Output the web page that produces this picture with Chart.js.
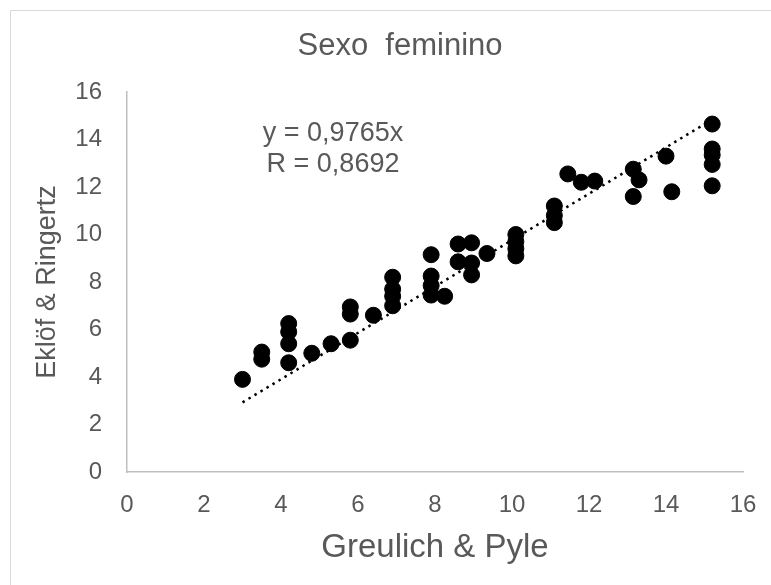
<!DOCTYPE html>
<html>
<head>
<meta charset="utf-8">
<script src="https://cdn.jsdelivr.net/npm/chart.js@4"></script>
<style>
  body { margin: 0; background: #fff; }
  canvas { display: block; }
</style>
</head>
<body>
<canvas id="agesChart" width="771" height="585"></canvas>
<script>
// Greulich & Pyle (x) vs Eklöf & Ringertz (y)
const gpAges = [3.0, 3.5, 3.5, 4.2, 4.2, 4.2, 4.2, 4.8, 5.3, 5.8, 5.8, 5.8, 6.4,
    6.9, 6.9, 6.9, 6.9, 7.9, 7.9, 7.9, 7.9, 8.25, 8.6, 8.6, 8.95, 8.95, 8.95, 9.35,
    10.1, 10.1, 10.1, 10.1, 11.1, 11.1, 11.1, 11.45, 11.8, 12.15, 13.15, 13.3, 13.15,
    14.0, 14.15, 15.2, 15.2, 15.2, 15.2, 15.2];
const erAges = [3.9, 5.05, 4.75, 6.25, 5.9, 5.4, 4.6, 5.0, 5.4, 6.95, 6.65, 5.55, 6.6,
    8.2, 7.7, 7.4, 7.0, 9.15, 8.25, 7.85, 7.45, 7.4, 9.6, 8.85, 9.65, 8.8, 8.3, 9.2,
    10.0, 9.7, 9.4, 9.1, 11.2, 10.8, 10.5, 12.55, 12.2, 12.25, 12.75, 12.3, 11.6,
    13.3, 11.8, 14.65, 13.6, 13.35, 12.95, 12.05];

// trend line y = 0,9765x, end points
const trendX = [3.0, 15.2];
const trendY = [2.93, 14.84];

const axisTicks = [0, 2, 4, 6, 8, 10, 12, 14, 16];

const grey = '#595959';
const family = '"Liberation Sans", Arial, sans-serif';

const frameAndText = {
    id: 'frameAndText',
    beforeDraw(chart) {
        const c = chart.ctx;
        c.save();
        c.strokeStyle = '#d9d9d9';
        c.lineWidth = 1;
        c.beginPath();
        c.moveTo(10.5, 585);
        c.lineTo(10.5, 10.5);
        c.lineTo(771, 10.5);
        c.stroke();
        c.restore();
    },
    afterDraw(chart) {
        const c = chart.ctx;
        c.save();
        c.fillStyle = grey;
        c.textAlign = 'center';
        c.textBaseline = 'middle';
        c.font = '31px ' + family;
        c.fillText('Sexo  feminino', 400, 46);
        c.font = '27px ' + family;
        c.fillText('y = 0,9765x', 333, 134);
        c.fillText('R = 0,8692', 333, 165);
        c.restore();
    }
};

document.addEventListener('DOMContentLoaded', function() {
    const ctx = document.getElementById('agesChart').getContext('2d');
    const points = gpAges.map((x, i) => ({ x: x, y: erAges[i] }));
    const trend = trendX.map((x, i) => ({ x: x, y: trendY[i] }));

    new Chart(ctx, {
        type: 'scatter',
        data: {
            datasets: [
                {
                    label: 'Trend',
                    type: 'line',
                    data: trend,
                    borderColor: '#000',
                    borderWidth: 2.5,
                    borderDash: [2.5, 4.5],
                    pointRadius: 0,
                    fill: false,
                    order: 0
                },
                {
                    label: 'Sexo feminino',
                    data: points,
                    backgroundColor: '#000',
                    borderColor: '#000',
                    pointRadius: 8,
                    pointHoverRadius: 8,
                    order: 1
                }
            ]
        },
        options: {
            responsive: false,
            animation: false,
            events: [],
            layout: { padding: { top: 92, right: 28, bottom: 0, left: 0 } },
            plugins: {
                legend: { display: false },
                title: { display: false },
                tooltip: { enabled: false }
            },
            scales: {
                x: {
                    type: 'linear',
                    min: 0,
                    max: 16,
                    afterFit: s => {
                        s.height = 113;
                        s.paddingRight = 10;
                        s.paddingLeft = 0;
                    },
                    afterBuildTicks: s => { s.ticks = axisTicks.map(v => ({ value: v })); },
                    grid: { display: false, drawTicks: false },
                    border: { color: '#bfbfbf', width: 1.5 },
                    ticks: {
                        padding: 19,
                        color: grey,
                        font: { family: family, size: 24 }
                    },
                    title: {
                        display: true,
                        text: 'Greulich & Pyle',
                        color: grey,
                        padding: { top: 0, bottom: 17 },
                        font: { family: family, size: 33 }
                    }
                },
                y: {
                    type: 'linear',
                    min: 0,
                    max: 16,
                    afterFit: s => { s.width = 127; },
                    afterBuildTicks: s => { s.ticks = axisTicks.map(v => ({ value: v })); },
                    grid: { display: false, drawTicks: false },
                    border: { color: '#bfbfbf', width: 1.5 },
                    ticks: {
                        padding: 25,
                        color: grey,
                        font: { family: family, size: 24 }
                    },
                    title: {
                        display: true,
                        text: 'Eklöf & Ringertz',
                        color: grey,
                        padding: { top: 31, bottom: 0 },
                        font: { family: family, size: 27 }
                    }
                }
            }
        },
        plugins: [frameAndText]
    });
});
</script>
</body>
</html>
